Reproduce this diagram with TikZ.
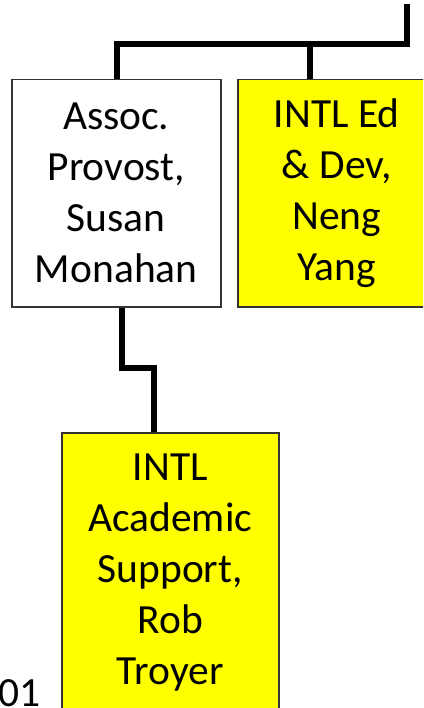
\documentclass[tikz,border=0pt]{standalone}
\usepackage{fontspec}
\setmainfont{Carlito}
\definecolor{boxyellow}{HTML}{FFFF00}
\begin{document}
\begin{tikzpicture}[x=1pt,y=-1pt,
  box/.style={draw=black!80, line width=1.5pt, inner sep=0pt, align=center,
    font=\fontsize{41.5}{51}\selectfont, anchor=north west},
  conn/.style={line width=5.5pt, line join=miter}]
\useasboundingbox (0,0) rectangle (423,708);
\clip (0,0) rectangle (423,708);
\node[box, fill=white, minimum width=209pt, minimum height=227pt] (b1) at (11,79)
  {Assoc.\\Provost,\\Susan\\Monahan};
\node[box, fill=boxyellow, minimum width=198pt, minimum height=227pt] (b2) at (237,79)
  {INTL Ed\\\& Dev,\\Neng\\Yang};
\node[box, fill=boxyellow, minimum width=217pt, minimum height=280pt] (b3) at (61,432)
  {INTL\\Academic\\Support,\\Rob\\Troyer};
\node[anchor=base east, inner sep=0pt, font=\fontsize{41.5}{51}\selectfont] (pg) at (41,706) {01};
\coordinate (top) at (407,4);
\coordinate (j1) at (117,44);
\coordinate (j2) at (310,44);
\coordinate (k1) at (122,368);
\coordinate (k2) at (154,368);
\draw[conn] (top) |- (j1) -- (j1 |- b1.north);
\draw[conn] (j2) -- (j2 |- b2.north);
\draw[conn] (k1 |- b1.south) -- (k1) -- (k2) -- (k2 |- b3.north);
\end{tikzpicture}
\end{document}
